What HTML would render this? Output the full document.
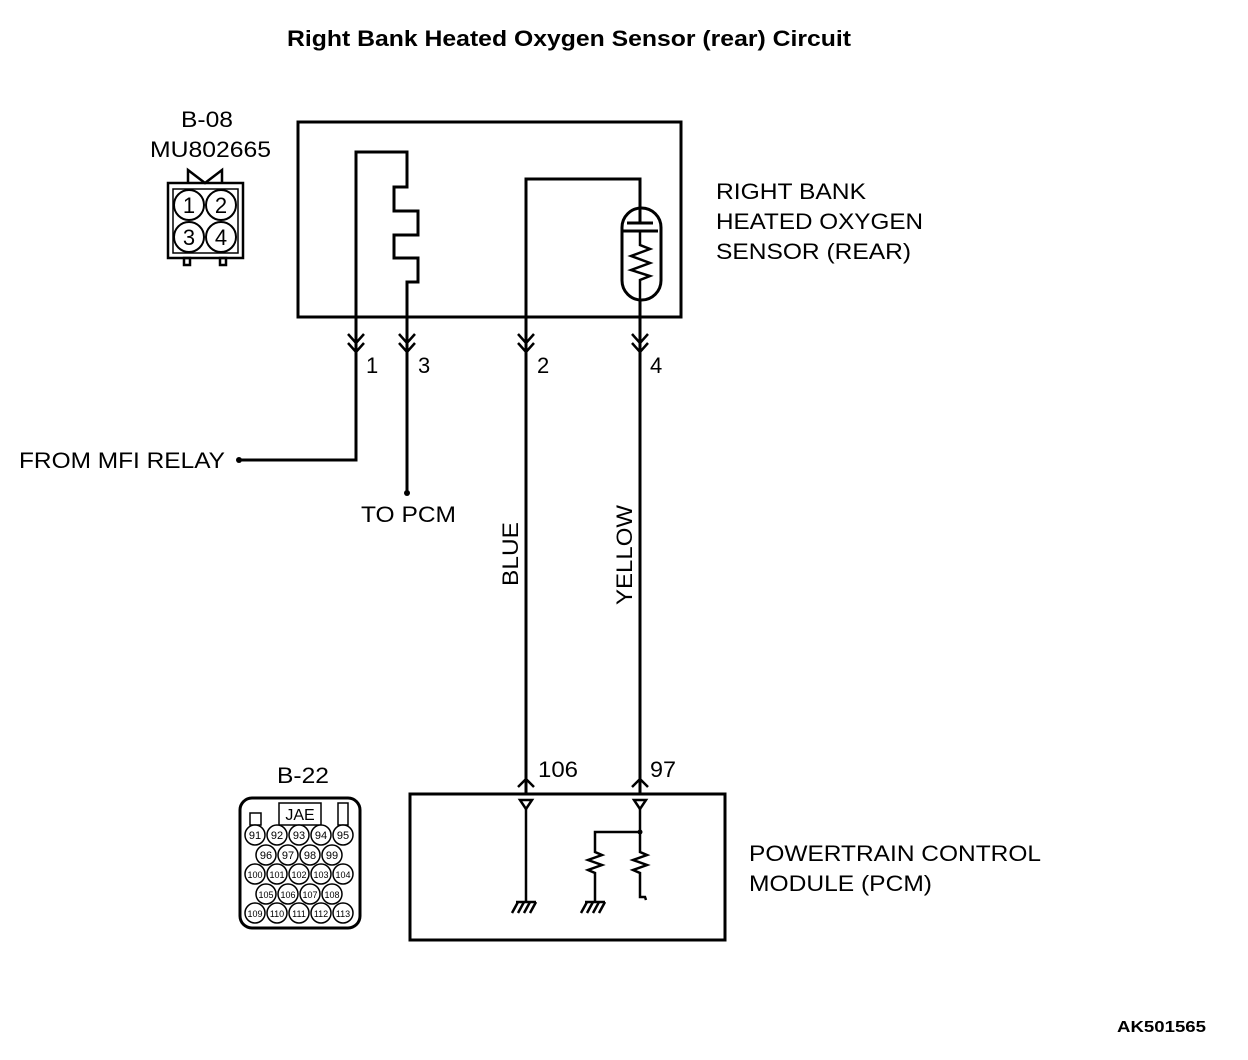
<!DOCTYPE html>
<html><head><meta charset="utf-8"><style>
html,body{margin:0;padding:0;background:#fff;}
svg{display:block;}
text{font-family:"Liberation Sans",sans-serif;fill:#000;}
</style></head><body>
<svg width="1248" height="1060" viewBox="0 0 1248 1060" xmlns="http://www.w3.org/2000/svg">
<g fill="none" stroke="#000" stroke-width="3">
<rect x="298" y="122" width="383" height="195"/>
<polyline points="240,460 356,460 356,152 407,152 407,187 394,187 394,211 418,211 418,235 394,235 394,258 418,258 418,282 407,282 407,492"/>
<polyline points="526,795 526,179 640,179 640,208"/>
<line x1="640" y1="300" x2="640" y2="795"/>
<rect x="622" y="208" width="39" height="92" rx="19.5"/>
<line x1="640" y1="208" x2="640" y2="223"/>
<line x1="627" y1="223" x2="653" y2="223"/>
<line x1="623" y1="231" x2="658" y2="231"/>
<polyline points="640,231 640,245 650,249 631,256 650,263 631,270 650,276 640,280 640,300" stroke-width="2.5"/>
<g stroke-width="2.5">
<polyline points="348,334 356,343 364,334"/><polyline points="348,343 356,352 364,343"/>
<polyline points="399,334 407,343 415,334"/><polyline points="399,343 407,352 415,343"/>
<polyline points="518,334 526,343 534,334"/><polyline points="518,343 526,352 534,343"/>
<polyline points="632,334 640,343 648,334"/><polyline points="632,343 640,352 648,343"/>
<polyline points="518,787 526,779 534,787"/>
<polyline points="632,787 640,779 648,787"/>
</g>
<rect x="410" y="794" width="315" height="146"/>
<g stroke-width="2.5">
<polygon points="520,800 532,800 526,809"/>
<polygon points="634,800 646,800 640,809"/>
<line x1="526" y1="809" x2="526" y2="901"/>
<line x1="516" y1="902" x2="536" y2="902"/>
<line x1="518" y1="902" x2="512" y2="913"/><line x1="524" y1="902" x2="518" y2="913"/><line x1="530" y1="902" x2="524" y2="913"/><line x1="536" y1="902" x2="530" y2="913"/>
<polyline points="640,809 640,832 595,832 595,852 602,855 588,860 602,865 588,870 595,873 595,901"/>
<line x1="585" y1="902" x2="605" y2="902"/>
<line x1="587" y1="902" x2="581" y2="913"/><line x1="593" y1="902" x2="587" y2="913"/><line x1="599" y1="902" x2="593" y2="913"/><line x1="605" y1="902" x2="599" y2="913"/>
<polyline points="640,832 640,852 647,855 633,860 647,865 633,870 640,873 640,897 645,897 646,900"/>
</g>
</g>
<circle cx="640" cy="832" r="2.5"/>
<circle cx="239" cy="460" r="3"/>
<circle cx="407" cy="493" r="3"/>
<g fill="none" stroke="#000" stroke-width="2.5">
<rect x="168" y="183" width="75" height="75"/>
<rect x="173" y="189" width="65" height="64" stroke-width="1.5"/>
<polyline points="188,183 188,170 205,183 222,170 222,183"/>
<rect x="184" y="258" width="6" height="7"/><rect x="220" y="258" width="6" height="7"/>
<circle cx="189" cy="205" r="15" stroke-width="2"/><circle cx="221" cy="205" r="15" stroke-width="2"/>
<circle cx="189" cy="237" r="15" stroke-width="2"/><circle cx="221" cy="237" r="15" stroke-width="2"/>
</g>
<g font-size="22" text-anchor="middle">
<text x="189" y="213">1</text><text x="221" y="213">2</text><text x="189" y="245">3</text><text x="221" y="245">4</text>
</g>
<g fill="none" stroke="#000">
<rect x="240" y="798" width="120" height="130" rx="12" stroke-width="3"/>
<rect x="250" y="813" width="11" height="12" stroke-width="1.5"/>
<rect x="279" y="803" width="42" height="22" stroke-width="1.5"/>
<rect x="338" y="803" width="10" height="22" stroke-width="1.5"/>
</g>
<text x="300" y="820" font-size="16" text-anchor="middle" font-family="Liberation Serif">JAE</text>
<g fill="#fff" stroke="#000" stroke-width="1.5">
<circle cx="255" cy="835" r="10"/><circle cx="277" cy="835" r="10"/><circle cx="299" cy="835" r="10"/><circle cx="321" cy="835" r="10"/><circle cx="343" cy="835" r="10"/>
<circle cx="266" cy="855" r="10"/><circle cx="288" cy="855" r="10"/><circle cx="310" cy="855" r="10"/><circle cx="332" cy="855" r="10"/>
<circle cx="255" cy="874" r="10"/><circle cx="277" cy="874" r="10"/><circle cx="299" cy="874" r="10"/><circle cx="321" cy="874" r="10"/><circle cx="343" cy="874" r="10"/>
<circle cx="266" cy="894" r="10"/><circle cx="288" cy="894" r="10"/><circle cx="310" cy="894" r="10"/><circle cx="332" cy="894" r="10"/>
<circle cx="255" cy="913" r="10"/><circle cx="277" cy="913" r="10"/><circle cx="299" cy="913" r="10"/><circle cx="321" cy="913" r="10"/><circle cx="343" cy="913" r="10"/>
</g>
<g font-size="11" text-anchor="middle">
<text x="255" y="839">91</text><text x="277" y="839">92</text><text x="299" y="839">93</text><text x="321" y="839">94</text><text x="343" y="839">95</text>
<text x="266" y="859">96</text><text x="288" y="859">97</text><text x="310" y="859">98</text><text x="332" y="859">99</text>
<text x="255" y="878" font-size="9">100</text><text x="277" y="878" font-size="9">101</text><text x="299" y="878" font-size="9">102</text><text x="321" y="878" font-size="9">103</text><text x="343" y="878" font-size="9">104</text>
<text x="266" y="898" font-size="9">105</text><text x="288" y="898" font-size="9">106</text><text x="310" y="898" font-size="9">107</text><text x="332" y="898" font-size="9">108</text>
<text x="255" y="917" font-size="9">109</text><text x="277" y="917" font-size="9">110</text><text x="299" y="917" font-size="9">111</text><text x="321" y="917" font-size="9">112</text><text x="343" y="917" font-size="9">113</text>
</g>
<text x="287" y="46" font-size="22" font-weight="bold" textLength="564" lengthAdjust="spacingAndGlyphs">Right Bank Heated Oxygen Sensor (rear) Circuit</text>
<g font-size="22" lengthAdjust="spacingAndGlyphs">
<text x="181" y="127" textLength="52" lengthAdjust="spacingAndGlyphs">B-08</text>
<text x="150" y="157" textLength="121" lengthAdjust="spacingAndGlyphs">MU802665</text>
<text x="716" y="199" textLength="150" lengthAdjust="spacingAndGlyphs">RIGHT BANK</text>
<text x="716" y="229" textLength="207" lengthAdjust="spacingAndGlyphs">HEATED OXYGEN</text>
<text x="716" y="259" textLength="195" lengthAdjust="spacingAndGlyphs">SENSOR (REAR)</text>
<text x="366" y="373">1</text><text x="418" y="373">3</text><text x="537" y="373">2</text><text x="650" y="373">4</text>
<text x="19" y="468" textLength="206" lengthAdjust="spacingAndGlyphs">FROM MFI RELAY</text>
<text x="361" y="522" textLength="95" lengthAdjust="spacingAndGlyphs">TO PCM</text>
<text transform="translate(518,586) rotate(-90)" textLength="64" lengthAdjust="spacingAndGlyphs">BLUE</text>
<text transform="translate(632,605) rotate(-90)" textLength="100" lengthAdjust="spacingAndGlyphs">YELLOW</text>
<text x="538" y="777" textLength="40" lengthAdjust="spacingAndGlyphs">106</text>
<text x="650" y="777" textLength="26" lengthAdjust="spacingAndGlyphs">97</text>
<text x="277" y="783" textLength="52" lengthAdjust="spacingAndGlyphs">B-22</text>
<text x="749" y="861" textLength="292" lengthAdjust="spacingAndGlyphs">POWERTRAIN CONTROL</text>
<text x="749" y="891" textLength="183" lengthAdjust="spacingAndGlyphs">MODULE (PCM)</text>
</g>
<text x="1117" y="1032" font-size="16" font-weight="bold" textLength="89" lengthAdjust="spacingAndGlyphs">AK501565</text>
</svg>
</body></html>
